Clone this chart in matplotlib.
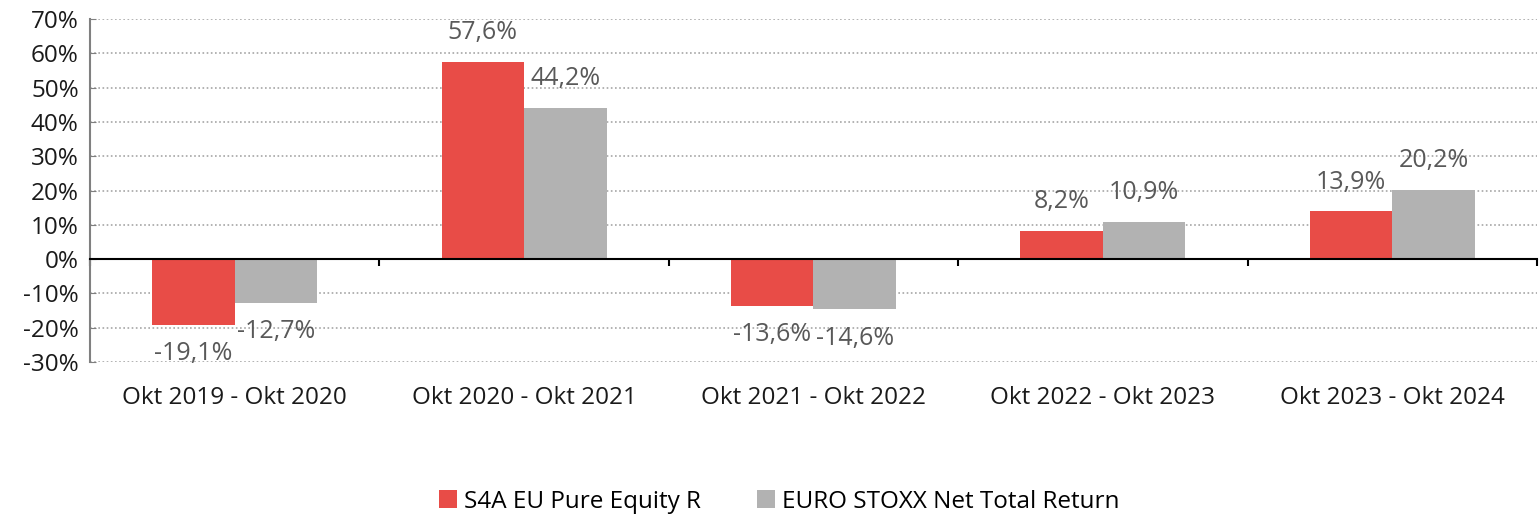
import numpy as np
import matplotlib.pyplot as plt
from matplotlib.ticker import FuncFormatter

plt.rcParams['font.family'] = ['Open Sans', 'DejaVu Sans']

categories = ["Okt 2019 - Okt 2020", "Okt 2020 - Okt 2021", "Okt 2021 - Okt 2022",
              "Okt 2022 - Okt 2023", "Okt 2023 - Okt 2024"]
fund = [-19.1, 57.6, -13.6, 8.2, 13.9]
index = [-12.7, 44.2, -14.6, 10.9, 20.2]
series_names = ["S4A EU Pure Equity R", "EURO STOXX Net Total Return"]

red = '#E84C47'
grey = '#B2B2B2'
label_col = '#595959'
fs = 17.5

fig = plt.figure(figsize=(15.4, 5.16), dpi=100)
ax = fig.add_axes([0.0584, 0.2984, 0.9396, 0.6646])

x = np.arange(len(categories))
w = 0.285
b1 = ax.bar(x - w / 2, fund, width=w, color=red, label=series_names[0], zorder=3)
b2 = ax.bar(x + w / 2, index, width=w, color=grey, label=series_names[1], zorder=3)

def fmt(v):
    return f"{v:.1f}%".replace('.', ',')

for bars, vals in [(b1, fund), (b2, index)]:
    for bar, v in zip(bars, vals):
        off = 21 if v >= 0 else -21
        ax.annotate(fmt(v), (bar.get_x() + bar.get_width() / 2, v),
                    xytext=(0, off), textcoords='offset points',
                    ha='center', va='center', fontsize=18, color=label_col, zorder=4)

ax.set_xlim(-0.5, len(categories) - 0.5)
ax.set_ylim(-30, 70)
ax.set_yticks(np.arange(-30, 71, 10))
ax.yaxis.set_major_formatter(FuncFormatter(lambda v, p: f"{v:.0f}%"))
ax.tick_params(axis='y', labelsize=fs, length=4, direction='in', color='#7F7F7F',
               pad=8, labelcolor='#1A1A1A')
ax.yaxis.grid(True, linestyle=(0, (1, 1.5)), color='#A6A6A6', linewidth=1.2, zorder=0)

for s in ['top', 'right']:
    ax.spines[s].set_visible(False)
ax.spines['left'].set_color('#808080')
ax.spines['left'].set_linewidth(1.5)
ax.spines['bottom'].set_position(('data', 0))
ax.spines['bottom'].set_color('black')
ax.spines['bottom'].set_linewidth(1.5)
ax.spines['bottom'].set_zorder(5)
ax.set_xticks(np.arange(len(categories) + 1) - 0.5)
ax.set_xticklabels([])
ax.tick_params(axis='x', direction='out', length=5, width=1.5, color='black')

sec = ax.secondary_xaxis(0)
sec.set_xticks(x)
sec.set_xticklabels(categories)
sec.tick_params(length=0, labelsize=fs, pad=17, labelcolor='#1A1A1A')
sec.spines['bottom'].set_visible(False)

fig.legend(handles=[b1, b2], labels=series_names, loc='lower center',
           bbox_to_anchor=(0.506, -0.038), ncol=2, frameon=False, fontsize=fs,
           handlelength=0.75, handleheight=0.75, handletextpad=0.3, columnspacing=2.3)

fig.savefig('out.png', dpi=100)
